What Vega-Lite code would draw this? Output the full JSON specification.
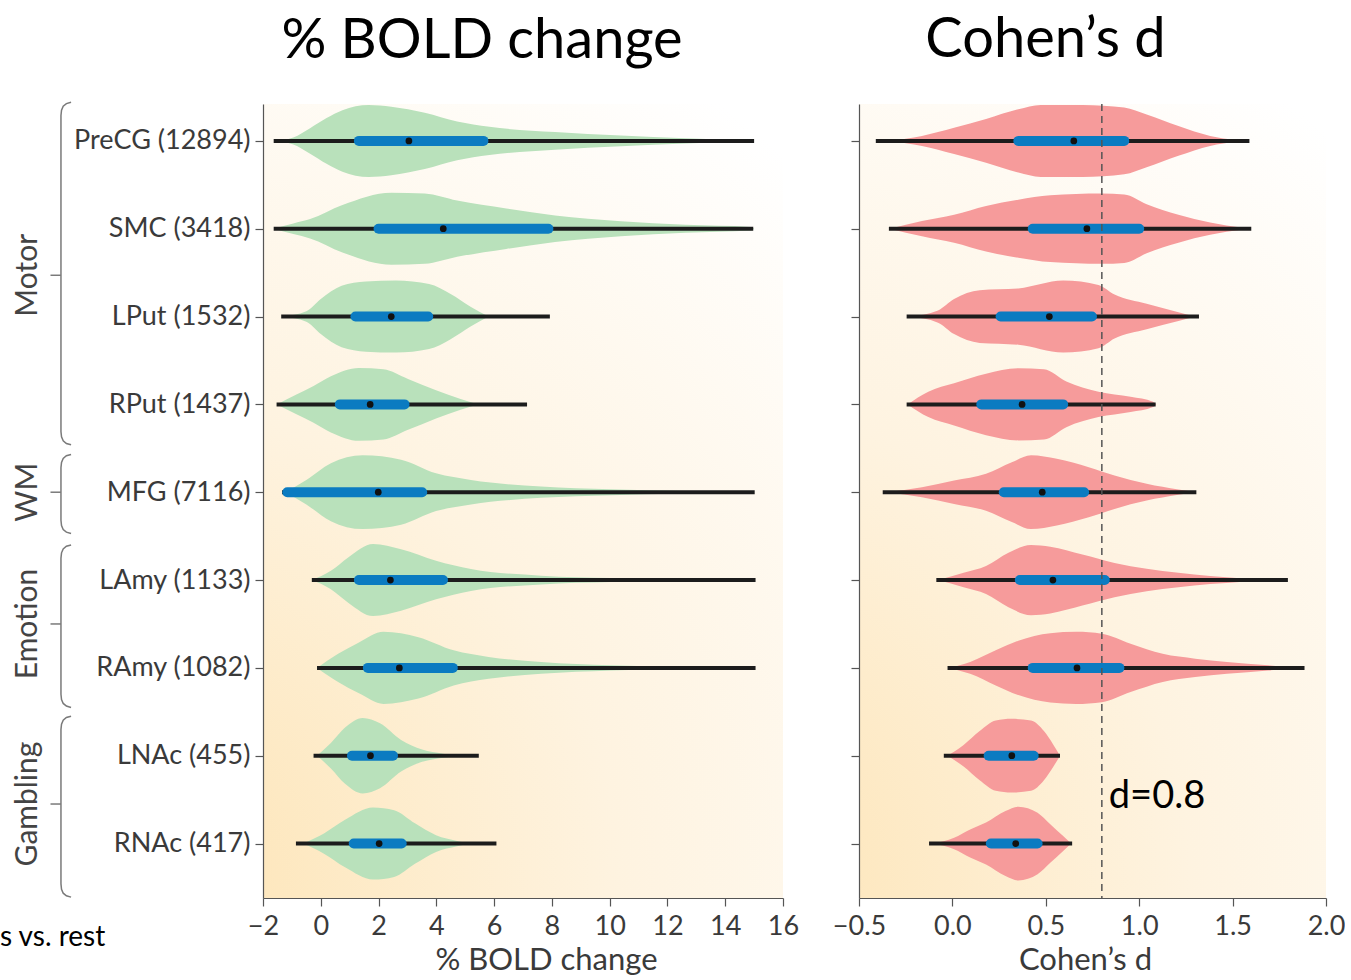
{
  "$schema": "https://vega.github.io/schema/vega-lite/v6.json",
  "padding": {"left": 0, "top": 12, "right": 0, "bottom": 0},
  "background": "white",
  "bounds": "flush",
  "spacing": 76,
  "config": {
    "font": "Lato",
    "view": {"stroke": null},
    "axis": {"grid": false, "labelFont": "Lato", "titleFont": "Lato", "labelFontSize": 27, "titleFontSize": 31, "titleFontWeight": "normal", "labelColor": "#3a3a3a", "titleColor": "#3a3a3a", "domainColor": "#555", "tickColor": "#555", "tickSize": 8, "domainWidth": 1.2, "tickWidth": 1.2, "labelFlush": false, "labelLimit": 400}
  },
  "datasets": {
    "vioB": [
      {"r":0,"x":-1.63,"lo":0,"hi":0},{"r":0,"x":-0.95,"lo":-0.04,"hi":0.04},{"r":0,"x":-0.37,"lo":-0.145,"hi":0.145},{"r":0,"x":0.2,"lo":-0.26,"hi":0.26},{"r":0,"x":0.75,"lo":-0.35,"hi":0.35},{"r":0,"x":1.66,"lo":-0.41,"hi":0.41},{"r":0,"x":2.44,"lo":-0.39,"hi":0.39},{"r":0,"x":3.6,"lo":-0.32,"hi":0.32},{"r":0,"x":4.72,"lo":-0.22,"hi":0.22},{"r":0,"x":5.84,"lo":-0.16,"hi":0.16},{"r":0,"x":8.11,"lo":-0.1,"hi":0.1},{"r":0,"x":10.39,"lo":-0.06,"hi":0.06},{"r":0,"x":12.63,"lo":-0.03,"hi":0.03},{"r":0,"x":15.0,"lo":0,"hi":0},
      {"r":1,"x":-1.63,"lo":1,"hi":1},{"r":1,"x":-0.95,"lo":0.94,"hi":1.06},{"r":1,"x":-0.37,"lo":0.89,"hi":1.11},{"r":1,"x":0.75,"lo":0.73,"hi":1.27},{"r":1,"x":2.44,"lo":0.59,"hi":1.41},{"r":1,"x":3.6,"lo":0.6,"hi":1.4},{"r":1,"x":4.72,"lo":0.68,"hi":1.32},{"r":1,"x":6.42,"lo":0.77,"hi":1.23},{"r":1,"x":8.11,"lo":0.85,"hi":1.15},{"r":1,"x":10.39,"lo":0.915,"hi":1.085},{"r":1,"x":12.63,"lo":0.955,"hi":1.045},{"r":1,"x":14.9,"lo":0.98,"hi":1.02},{"r":1,"x":15.0,"lo":1,"hi":1},
      {"r":2,"x":-1.34,"lo":2,"hi":2},{"r":2,"x":-0.5,"lo":1.94,"hi":2.06},{"r":2,"x":0.0,"lo":1.8,"hi":2.2},{"r":2,"x":0.72,"lo":1.65,"hi":2.35},{"r":2,"x":1.56,"lo":1.6,"hi":2.4},{"r":2,"x":2.6,"lo":1.59,"hi":2.41},{"r":2,"x":3.75,"lo":1.63,"hi":2.37},{"r":2,"x":4.48,"lo":1.74,"hi":2.26},{"r":2,"x":5.2,"lo":1.89,"hi":2.11},{"r":2,"x":5.81,"lo":2,"hi":2},
      {"r":3,"x":-1.52,"lo":3,"hi":3},{"r":3,"x":-0.86,"lo":2.89,"hi":3.11},{"r":3,"x":-0.25,"lo":2.79,"hi":3.21},{"r":3,"x":0.35,"lo":2.68,"hi":3.32},{"r":3,"x":1.32,"lo":2.585,"hi":3.415},{"r":3,"x":2.17,"lo":2.6,"hi":3.4},{"r":3,"x":3.02,"lo":2.71,"hi":3.29},{"r":3,"x":3.99,"lo":2.84,"hi":3.16},{"r":3,"x":4.84,"lo":2.94,"hi":3.06},{"r":3,"x":5.45,"lo":3,"hi":3},
      {"r":4,"x":-1.22,"lo":4,"hi":4},{"r":4,"x":-0.5,"lo":3.86,"hi":4.14},{"r":4,"x":0.35,"lo":3.67,"hi":4.33},{"r":4,"x":1.45,"lo":3.58,"hi":4.42},{"r":4,"x":2.78,"lo":3.63,"hi":4.37},{"r":4,"x":3.99,"lo":3.785,"hi":4.215},{"r":4,"x":5.2,"lo":3.86,"hi":4.14},{"r":4,"x":7.63,"lo":3.936,"hi":4.064},{"r":4,"x":10.05,"lo":3.966,"hi":4.034},{"r":4,"x":12.48,"lo":3.985,"hi":4.015},{"r":4,"x":15.0,"lo":4,"hi":4},
      {"r":5,"x":-0.31,"lo":5,"hi":5},{"r":5,"x":0.35,"lo":4.895,"hi":5.105},{"r":5,"x":0.96,"lo":4.74,"hi":5.26},{"r":5,"x":1.81,"lo":4.59,"hi":5.41},{"r":5,"x":2.78,"lo":4.65,"hi":5.35},{"r":5,"x":3.99,"lo":4.78,"hi":5.22},{"r":5,"x":5.2,"lo":4.875,"hi":5.125},{"r":5,"x":7.63,"lo":4.95,"hi":5.05},{"r":5,"x":10.05,"lo":4.977,"hi":5.023},{"r":5,"x":12.48,"lo":4.992,"hi":5.008},{"r":5,"x":15.05,"lo":5,"hi":5},
      {"r":6,"x":-0.13,"lo":6,"hi":6},{"r":6,"x":0.6,"lo":5.84,"hi":6.16},{"r":6,"x":1.32,"lo":5.71,"hi":6.29},{"r":6,"x":2.17,"lo":5.59,"hi":6.41},{"r":6,"x":3.38,"lo":5.65,"hi":6.35},{"r":6,"x":4.6,"lo":5.8,"hi":6.2},{"r":6,"x":5.81,"lo":5.875,"hi":6.125},{"r":6,"x":7.63,"lo":5.932,"hi":6.068},{"r":6,"x":10.05,"lo":5.97,"hi":6.03},{"r":6,"x":12.48,"lo":5.989,"hi":6.011},{"r":6,"x":15.05,"lo":6,"hi":6},
      {"r":7,"x":-0.13,"lo":7,"hi":7},{"r":7,"x":0.35,"lo":6.855,"hi":7.145},{"r":7,"x":0.84,"lo":6.68,"hi":7.32},{"r":7,"x":1.45,"lo":6.57,"hi":7.43},{"r":7,"x":2.05,"lo":6.63,"hi":7.37},{"r":7,"x":2.78,"lo":6.82,"hi":7.18},{"r":7,"x":3.51,"lo":6.93,"hi":7.07},{"r":7,"x":4.23,"lo":6.977,"hi":7.023},{"r":7,"x":4.72,"lo":7,"hi":7},
      {"r":8,"x":-0.61,"lo":8,"hi":8},{"r":8,"x":0.11,"lo":7.885,"hi":8.115},{"r":8,"x":0.84,"lo":7.73,"hi":8.27},{"r":8,"x":1.81,"lo":7.59,"hi":8.41},{"r":8,"x":2.54,"lo":7.62,"hi":8.38},{"r":8,"x":3.26,"lo":7.77,"hi":8.23},{"r":8,"x":3.99,"lo":7.905,"hi":8.095},{"r":8,"x":4.72,"lo":7.97,"hi":8.03},{"r":8,"x":5.2,"lo":8,"hi":8}
    ],
    "vioD": [
      {"r":0,"x":-0.335,"lo":0,"hi":0},{"r":0,"x":-0.163,"lo":-0.057,"hi":0.057},{"r":0,"x":0.009,"lo":-0.15,"hi":0.15},{"r":0,"x":0.18,"lo":-0.25,"hi":0.25},{"r":0,"x":0.353,"lo":-0.36,"hi":0.36},{"r":0,"x":0.473,"lo":-0.41,"hi":0.41},{"r":0,"x":0.696,"lo":-0.41,"hi":0.41},{"r":0,"x":0.92,"lo":-0.38,"hi":0.38},{"r":0,"x":1.04,"lo":-0.3,"hi":0.3},{"r":0,"x":1.21,"lo":-0.17,"hi":0.17},{"r":0,"x":1.38,"lo":-0.057,"hi":0.057},{"r":0,"x":1.52,"lo":-0.01,"hi":0.01},{"r":0,"x":1.56,"lo":0,"hi":0},
      {"r":1,"x":-0.335,"lo":1,"hi":1},{"r":1,"x":-0.163,"lo":0.913,"hi":1.087},{"r":1,"x":0.009,"lo":0.84,"hi":1.16},{"r":1,"x":0.18,"lo":0.74,"hi":1.26},{"r":1,"x":0.353,"lo":0.67,"hi":1.33},{"r":1,"x":0.524,"lo":0.62,"hi":1.38},{"r":1,"x":0.8,"lo":0.6,"hi":1.4},{"r":1,"x":0.92,"lo":0.61,"hi":1.39},{"r":1,"x":1.04,"lo":0.72,"hi":1.28},{"r":1,"x":1.21,"lo":0.84,"hi":1.16},{"r":1,"x":1.38,"lo":0.93,"hi":1.07},{"r":1,"x":1.555,"lo":0.99,"hi":1.01},{"r":1,"x":1.6,"lo":1,"hi":1},
      {"r":2,"x":-0.232,"lo":2,"hi":2},{"r":2,"x":-0.077,"lo":1.93,"hi":2.07},{"r":2,"x":0.009,"lo":1.8,"hi":2.2},{"r":2,"x":0.146,"lo":1.7,"hi":2.3},{"r":2,"x":0.353,"lo":1.68,"hi":2.32},{"r":2,"x":0.593,"lo":1.59,"hi":2.41},{"r":2,"x":0.782,"lo":1.64,"hi":2.36},{"r":2,"x":0.868,"lo":1.75,"hi":2.25},{"r":2,"x":1.04,"lo":1.855,"hi":2.145},{"r":2,"x":1.21,"lo":1.95,"hi":2.05},{"r":2,"x":1.3,"lo":2,"hi":2},
      {"r":3,"x":-0.24,"lo":3,"hi":3},{"r":3,"x":-0.129,"lo":2.855,"hi":3.145},{"r":3,"x":0.009,"lo":2.76,"hi":3.24},{"r":3,"x":0.18,"lo":2.65,"hi":3.35},{"r":3,"x":0.353,"lo":2.59,"hi":3.41},{"r":3,"x":0.49,"lo":2.6,"hi":3.4},{"r":3,"x":0.61,"lo":2.74,"hi":3.26},{"r":3,"x":0.782,"lo":2.855,"hi":3.145},{"r":3,"x":0.954,"lo":2.913,"hi":3.087},{"r":3,"x":1.074,"lo":2.97,"hi":3.03},{"r":3,"x":1.09,"lo":3,"hi":3},
      {"r":4,"x":-0.352,"lo":4,"hi":4},{"r":4,"x":-0.163,"lo":3.943,"hi":4.057},{"r":4,"x":0.009,"lo":3.867,"hi":4.133},{"r":4,"x":0.18,"lo":3.79,"hi":4.21},{"r":4,"x":0.318,"lo":3.66,"hi":4.34},{"r":4,"x":0.421,"lo":3.58,"hi":4.42},{"r":4,"x":0.559,"lo":3.62,"hi":4.38},{"r":4,"x":0.73,"lo":3.715,"hi":4.285},{"r":4,"x":0.868,"lo":3.81,"hi":4.19},{"r":4,"x":1.04,"lo":3.905,"hi":4.095},{"r":4,"x":1.21,"lo":3.97,"hi":4.03},{"r":4,"x":1.3,"lo":4,"hi":4},
      {"r":5,"x":-0.077,"lo":5,"hi":5},{"r":5,"x":0.06,"lo":4.917,"hi":5.083},{"r":5,"x":0.18,"lo":4.84,"hi":5.16},{"r":5,"x":0.3,"lo":4.69,"hi":5.31},{"r":5,"x":0.421,"lo":4.6,"hi":5.4},{"r":5,"x":0.524,"lo":4.62,"hi":5.38},{"r":5,"x":0.696,"lo":4.71,"hi":5.29},{"r":5,"x":0.868,"lo":4.805,"hi":5.195},{"r":5,"x":1.04,"lo":4.872,"hi":5.128},{"r":5,"x":1.21,"lo":4.917,"hi":5.083},{"r":5,"x":1.38,"lo":4.955,"hi":5.045},{"r":5,"x":1.555,"lo":4.981,"hi":5.019},{"r":5,"x":1.65,"lo":5,"hi":5},
      {"r":6,"x":-0.017,"lo":6,"hi":6},{"r":6,"x":0.095,"lo":5.932,"hi":6.068},{"r":6,"x":0.232,"lo":5.8,"hi":6.2},{"r":6,"x":0.353,"lo":5.69,"hi":6.31},{"r":6,"x":0.524,"lo":5.605,"hi":6.395},{"r":6,"x":0.662,"lo":5.59,"hi":6.41},{"r":6,"x":0.8,"lo":5.61,"hi":6.39},{"r":6,"x":0.954,"lo":5.725,"hi":6.275},{"r":6,"x":1.126,"lo":5.84,"hi":6.16},{"r":6,"x":1.3,"lo":5.895,"hi":6.105},{"r":6,"x":1.47,"lo":5.932,"hi":6.068},{"r":6,"x":1.69,"lo":5.97,"hi":6.03},{"r":6,"x":1.85,"lo":6,"hi":6},
      {"r":7,"x":-0.026,"lo":7,"hi":7},{"r":7,"x":0.06,"lo":6.877,"hi":7.123},{"r":7,"x":0.146,"lo":6.72,"hi":7.28},{"r":7,"x":0.232,"lo":6.6,"hi":7.4},{"r":7,"x":0.318,"lo":6.58,"hi":7.42},{"r":7,"x":0.421,"lo":6.6,"hi":7.4},{"r":7,"x":0.49,"lo":6.72,"hi":7.28},{"r":7,"x":0.541,"lo":6.877,"hi":7.123},{"r":7,"x":0.576,"lo":7,"hi":7},
      {"r":8,"x":-0.103,"lo":8,"hi":8},{"r":8,"x":0.009,"lo":7.935,"hi":8.065},{"r":8,"x":0.095,"lo":7.84,"hi":8.16},{"r":8,"x":0.18,"lo":7.76,"hi":8.24},{"r":8,"x":0.284,"lo":7.63,"hi":8.37},{"r":8,"x":0.353,"lo":7.58,"hi":8.42},{"r":8,"x":0.456,"lo":7.65,"hi":8.35},{"r":8,"x":0.524,"lo":7.78,"hi":8.22},{"r":8,"x":0.593,"lo":7.915,"hi":8.085},{"r":8,"x":0.636,"lo":8,"hi":8}
    ],
    "boxB": [
      {"r":0,"wl":-1.63,"wh":15.0,"q1":1.32,"q3":5.63,"md":3.05},
      {"r":1,"wl":-1.63,"wh":14.97,"q1":2.0,"q3":7.88,"md":4.24},
      {"r":2,"wl":-1.37,"wh":7.93,"q1":1.2,"q3":3.72,"md":2.44},
      {"r":3,"wl":-1.53,"wh":7.14,"q1":0.66,"q3":2.9,"md":1.71},
      {"r":4,"wl":-1.34,"wh":15.02,"q1":-1.16,"q3":3.51,"md":1.99},
      {"r":5,"wl":-0.31,"wh":15.05,"q1":1.32,"q3":4.23,"md":2.41},
      {"r":6,"wl":-0.13,"wh":15.05,"q1":1.63,"q3":4.57,"md":2.72},
      {"r":7,"wl":-0.25,"wh":5.47,"q1":1.08,"q3":2.5,"md":1.72},
      {"r":8,"wl":-0.86,"wh":6.08,"q1":1.14,"q3":2.8,"md":2.02}
    ],
    "boxD": [
      {"r":0,"wl":-0.41,"wh":1.59,"q1":0.353,"q3":0.92,"md":0.65},
      {"r":1,"wl":-0.34,"wh":1.6,"q1":0.43,"q3":1.0,"md":0.72},
      {"r":2,"wl":-0.245,"wh":1.32,"q1":0.258,"q3":0.747,"md":0.519},
      {"r":3,"wl":-0.245,"wh":1.088,"q1":0.155,"q3":0.593,"md":0.373},
      {"r":4,"wl":-0.373,"wh":1.306,"q1":0.275,"q3":0.705,"md":0.481},
      {"r":5,"wl":-0.086,"wh":1.796,"q1":0.361,"q3":0.816,"md":0.538},
      {"r":6,"wl":-0.026,"wh":1.885,"q1":0.43,"q3":0.894,"md":0.667},
      {"r":7,"wl":-0.046,"wh":0.576,"q1":0.194,"q3":0.435,"md":0.318},
      {"r":8,"wl":-0.125,"wh":0.641,"q1":0.206,"q3":0.456,"md":0.339}
    ],
    "brk": [
      {"g":"Motor","o":0,"x":0.38,"y":-0.44},{"g":"Motor","o":1,"x":0.355,"y":-0.425},{"g":"Motor","o":2,"x":0.338,"y":-0.395},{"g":"Motor","o":3,"x":0.329,"y":-0.35},{"g":"Motor","o":4,"x":0.326,"y":-0.29},{"g":"Motor","o":5,"x":0.326,"y":3.31},{"g":"Motor","o":6,"x":0.329,"y":3.37},{"g":"Motor","o":7,"x":0.338,"y":3.415},{"g":"Motor","o":8,"x":0.355,"y":3.445},{"g":"Motor","o":9,"x":0.38,"y":3.46},
      {"g":"WM","o":0,"x":0.38,"y":3.57},{"g":"WM","o":1,"x":0.355,"y":3.585},{"g":"WM","o":2,"x":0.338,"y":3.615},{"g":"WM","o":3,"x":0.329,"y":3.66},{"g":"WM","o":4,"x":0.326,"y":3.72},{"g":"WM","o":5,"x":0.326,"y":4.32},{"g":"WM","o":6,"x":0.329,"y":4.38},{"g":"WM","o":7,"x":0.338,"y":4.425},{"g":"WM","o":8,"x":0.355,"y":4.455},{"g":"WM","o":9,"x":0.38,"y":4.47},
      {"g":"Emotion","o":0,"x":0.38,"y":4.6},{"g":"Emotion","o":1,"x":0.355,"y":4.615},{"g":"Emotion","o":2,"x":0.338,"y":4.645},{"g":"Emotion","o":3,"x":0.329,"y":4.69},{"g":"Emotion","o":4,"x":0.326,"y":4.75},{"g":"Emotion","o":5,"x":0.326,"y":6.3},{"g":"Emotion","o":6,"x":0.329,"y":6.36},{"g":"Emotion","o":7,"x":0.338,"y":6.405},{"g":"Emotion","o":8,"x":0.355,"y":6.435},{"g":"Emotion","o":9,"x":0.38,"y":6.45},
      {"g":"Gambling","o":0,"x":0.38,"y":6.55},{"g":"Gambling","o":1,"x":0.355,"y":6.565},{"g":"Gambling","o":2,"x":0.338,"y":6.595},{"g":"Gambling","o":3,"x":0.329,"y":6.64},{"g":"Gambling","o":4,"x":0.326,"y":6.7},{"g":"Gambling","o":5,"x":0.326,"y":8.46},{"g":"Gambling","o":6,"x":0.329,"y":8.52},{"g":"Gambling","o":7,"x":0.338,"y":8.565},{"g":"Gambling","o":8,"x":0.355,"y":8.595},{"g":"Gambling","o":9,"x":0.38,"y":8.61}
    ],
    "grp": [
      {"g":"Motor","mid":1.53},
      {"g":"WM","mid":4.0},
      {"g":"Emotion","mid":5.5},
      {"g":"Gambling","mid":7.55}
    ]
  },
  "hconcat": [
    {
      "width": 187,
      "height": 794,
      "title": {"text": "s vs. rest", "orient": "bottom", "anchor": "start", "fontSize": 28, "fontWeight": "normal", "font": "Lato", "color": "#000", "offset": 24},
      "layer": [
        {
          "data": {"name": "brk"},
          "mark": {"type": "line", "color": "#7a7a7a", "strokeWidth": 1.5},
          "encoding": {
            "x": {"field": "x", "type": "quantitative", "scale": {"domain": [0, 1], "nice": false, "zero": false}, "axis": null},
            "y": {"field": "y", "type": "quantitative", "scale": {"domain": [-0.42, 8.62], "reverse": true, "nice": false, "zero": false}, "axis": null},
            "detail": {"field": "g"},
            "order": {"field": "o"}
          }
        },
        {
          "data": {"name": "grp"},
          "mark": {"type": "rule", "color": "#7a7a7a", "strokeWidth": 1.5},
          "encoding": {
            "x": {"datum": 0.27, "type": "quantitative", "scale": {"domain": [0, 1], "nice": false, "zero": false}, "axis": null},
            "x2": {"datum": 0.326},
            "y": {"field": "mid", "type": "quantitative", "scale": {"domain": [-0.42, 8.62], "reverse": true, "nice": false, "zero": false}, "axis": null}
          }
        },
        {
          "data": {"name": "grp"},
          "mark": {"type": "text", "angle": 270, "fontSize": 30, "font": "Lato", "color": "#444", "align": "center", "baseline": "middle"},
          "encoding": {
            "x": {"datum": 0.15, "type": "quantitative", "scale": {"domain": [0, 1], "nice": false, "zero": false}, "axis": null},
            "y": {"field": "mid", "type": "quantitative", "scale": {"domain": [-0.42, 8.62], "reverse": true, "nice": false, "zero": false}, "axis": null},
            "text": {"field": "g"}
          }
        }
      ]
    },
    {
      "width": 520,
      "height": 794,
      "title": {"text": "% BOLD change", "fontSize": 56, "font": "Lato", "fontWeight": "normal", "color": "#000", "dx": -41, "offset": 34, "anchor": "middle"},
      "view": {"stroke": null, "fill": {"gradient": "radial", "x1": 0, "y1": 1, "r1": 0, "x2": 0, "y2": 1, "r2": 1.25, "stops": [{"offset": 0, "color": "#fde3b2"}, {"offset": 0.5, "color": "#fef3e0"}, {"offset": 1, "color": "#ffffff"}]}},
      "layer": [
        {
          "data": {"name": "vioB"},
          "mark": {"type": "area", "interpolate": "monotone", "color": "#b9e1bb", "opacity": 1},
          "encoding": {
            "x": {"field": "x", "type": "quantitative", "title": "% BOLD change", "scale": {"domain": [-2, 16], "nice": false, "zero": false}, "axis": {"values": [-2, 0, 2, 4, 6, 8, 10, 12, 14, 16], "format": "d", "labelPadding": 7, "titlePadding": 6, "titleX": 283}},
            "y": {"field": "lo", "type": "quantitative", "title": null, "scale": {"domain": [-0.42, 8.62], "reverse": true, "nice": false, "zero": false}, "axis": {"values": [0, 1, 2, 3, 4, 5, 6, 7, 8], "labelFontSize": 27, "labelPadding": 5, "labelExpr": "['PreCG (12894)','SMC (3418)','LPut (1532)','RPut (1437)','MFG (7116)','LAmy (1133)','RAmy (1082)','LNAc (455)','RNAc (417)'][datum.value]"}},
            "y2": {"field": "hi"},
            "detail": {"field": "r"}
          }
        },
        {
          "data": {"name": "boxB"},
          "mark": {"type": "rule", "color": "#1c1c1c", "strokeWidth": 4},
          "encoding": {
            "x": {"field": "wl", "type": "quantitative", "title": "% BOLD change", "scale": {"domain": [-2, 16], "nice": false, "zero": false}},
            "x2": {"field": "wh"},
            "y": {"field": "r", "type": "quantitative", "title": null, "scale": {"domain": [-0.42, 8.62], "reverse": true, "nice": false, "zero": false}}
          }
        },
        {
          "data": {"name": "boxB"},
          "mark": {"type": "rule", "color": "#0b7bc1", "strokeWidth": 10, "strokeCap": "round"},
          "encoding": {
            "x": {"field": "q1", "type": "quantitative", "title": "% BOLD change", "scale": {"domain": [-2, 16], "nice": false, "zero": false}},
            "x2": {"field": "q3"},
            "y": {"field": "r", "type": "quantitative", "title": null, "scale": {"domain": [-0.42, 8.62], "reverse": true, "nice": false, "zero": false}}
          }
        },
        {
          "data": {"name": "boxB"},
          "mark": {"type": "circle", "color": "#111", "size": 45, "opacity": 1},
          "encoding": {
            "x": {"field": "md", "type": "quantitative", "title": "% BOLD change", "scale": {"domain": [-2, 16], "nice": false, "zero": false}},
            "y": {"field": "r", "type": "quantitative", "title": null, "scale": {"domain": [-0.42, 8.62], "reverse": true, "nice": false, "zero": false}}
          }
        }
      ]
    },
    {
      "width": 467,
      "height": 794,
      "title": {"text": "Cohen’s d", "fontSize": 56, "font": "Lato", "fontWeight": "normal", "color": "#000", "dx": -47, "offset": 34, "anchor": "middle"},
      "view": {"stroke": null, "fill": {"gradient": "radial", "x1": 0, "y1": 1, "r1": 0, "x2": 0, "y2": 1, "r2": 1.25, "stops": [{"offset": 0, "color": "#fde3b2"}, {"offset": 0.5, "color": "#fef3e0"}, {"offset": 1, "color": "#ffffff"}]}},
      "layer": [
        {
          "data": {"name": "vioD"},
          "mark": {"type": "area", "interpolate": "monotone", "color": "#f69b9b", "opacity": 1},
          "encoding": {
            "x": {"field": "x", "type": "quantitative", "title": "Cohen’s d", "scale": {"domain": [-0.5, 2.0], "nice": false, "zero": false}, "axis": {"values": [-0.5, 0, 0.5, 1, 1.5, 2], "format": ".1f", "labelPadding": 7, "titlePadding": 6, "titleX": 226}},
            "y": {"field": "lo", "type": "quantitative", "title": null, "scale": {"domain": [-0.42, 8.62], "reverse": true, "nice": false, "zero": false}, "axis": {"values": [0, 1, 2, 3, 4, 5, 6, 7, 8], "labels": false}},
            "y2": {"field": "hi"},
            "detail": {"field": "r"}
          }
        },
        {
          "data": {"name": "boxD"},
          "mark": {"type": "rule", "color": "#1c1c1c", "strokeWidth": 4},
          "encoding": {
            "x": {"field": "wl", "type": "quantitative", "title": "Cohen’s d", "scale": {"domain": [-0.5, 2.0], "nice": false, "zero": false}},
            "x2": {"field": "wh"},
            "y": {"field": "r", "type": "quantitative", "title": null, "scale": {"domain": [-0.42, 8.62], "reverse": true, "nice": false, "zero": false}}
          }
        },
        {
          "data": {"name": "boxD"},
          "mark": {"type": "rule", "color": "#0b7bc1", "strokeWidth": 10, "strokeCap": "round"},
          "encoding": {
            "x": {"field": "q1", "type": "quantitative", "title": "Cohen’s d", "scale": {"domain": [-0.5, 2.0], "nice": false, "zero": false}},
            "x2": {"field": "q3"},
            "y": {"field": "r", "type": "quantitative", "title": null, "scale": {"domain": [-0.42, 8.62], "reverse": true, "nice": false, "zero": false}}
          }
        },
        {
          "data": {"name": "boxD"},
          "mark": {"type": "circle", "color": "#111", "size": 45, "opacity": 1},
          "encoding": {
            "x": {"field": "md", "type": "quantitative", "title": "Cohen’s d", "scale": {"domain": [-0.5, 2.0], "nice": false, "zero": false}},
            "y": {"field": "r", "type": "quantitative", "title": null, "scale": {"domain": [-0.42, 8.62], "reverse": true, "nice": false, "zero": false}}
          }
        },
        {
          "data": {"values": [{"d": 0.8}]},
          "mark": {"type": "rule", "color": "#555", "strokeWidth": 1.5, "strokeDash": [7, 5]},
          "encoding": {
            "x": {"field": "d", "type": "quantitative", "title": "Cohen’s d", "scale": {"domain": [-0.5, 2.0], "nice": false, "zero": false}}
          }
        },
        {
          "data": {"values": [{"x": 0.8, "y": 7.47, "t": "d=0.8"}]},
          "mark": {"type": "text", "fontSize": 38, "font": "Lato", "color": "#000", "align": "left", "baseline": "middle", "dx": 7},
          "encoding": {
            "x": {"field": "x", "type": "quantitative", "title": "Cohen’s d", "scale": {"domain": [-0.5, 2.0], "nice": false, "zero": false}},
            "y": {"field": "y", "type": "quantitative", "title": null, "scale": {"domain": [-0.42, 8.62], "reverse": true, "nice": false, "zero": false}},
            "text": {"field": "t"}
          }
        }
      ]
    }
  ]
}
